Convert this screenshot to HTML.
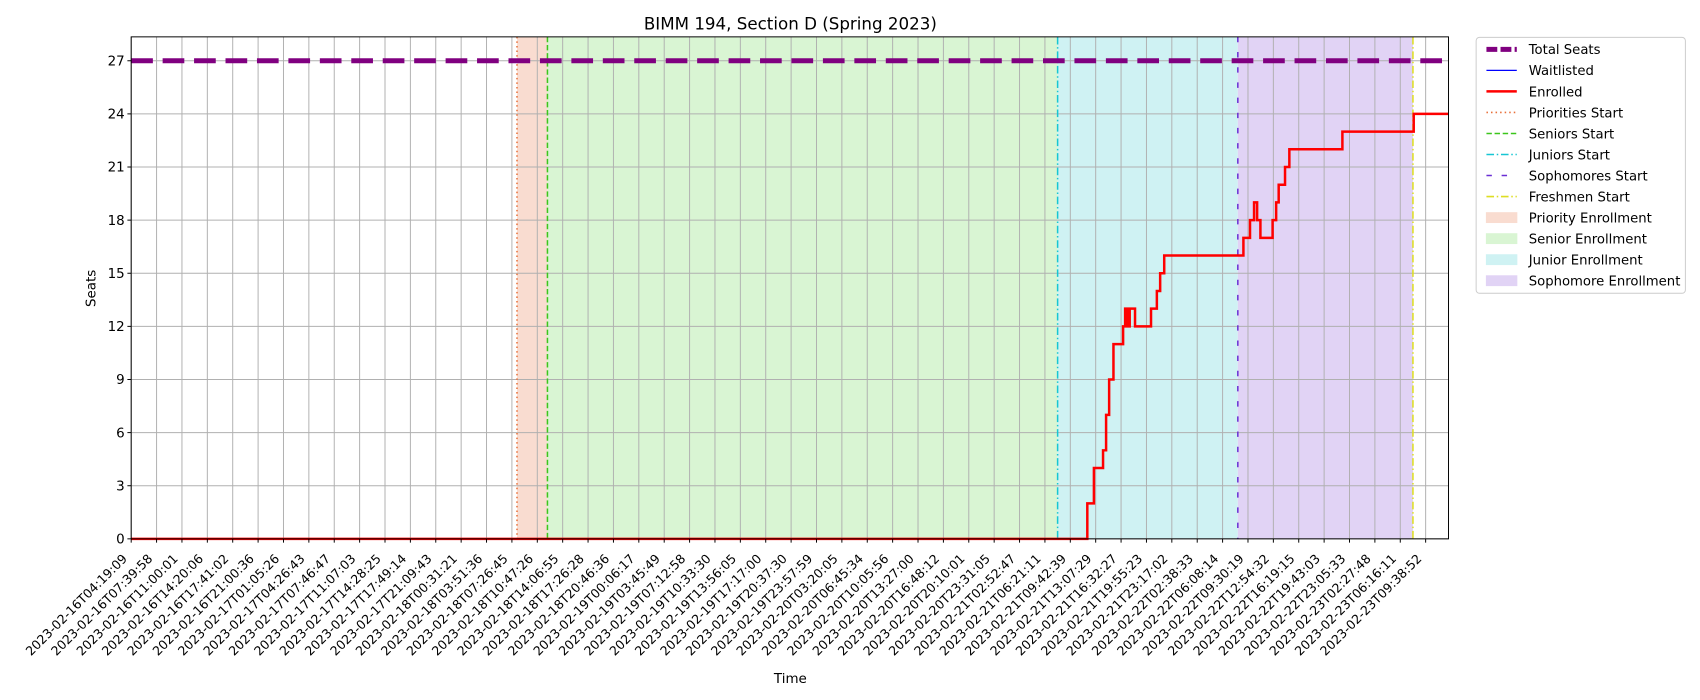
<!DOCTYPE html>
<html><head><meta charset="utf-8">
<style>
html,body{margin:0;padding:0;background:#fff;}
svg{display:block;font-family:"DejaVu Sans","Liberation Sans",sans-serif;}
</style></head>
<body>
<svg id="chart" width="1700" height="700" viewBox="0 0 1700 700">
<g transform="scale(1.0842)">
<g id="spans"></g><g id="grid"></g><g id="vlines"></g><g id="series"></g><g id="axes"></g><g id="legend"></g>
</g>
</svg>
<script>
const tickLabels = ["2023-02-16T04:19:09","2023-02-16T07:39:58","2023-02-16T11:00:01","2023-02-16T14:20:06","2023-02-16T17:41:02","2023-02-16T21:00:36","2023-02-17T01:05:26","2023-02-17T04:26:43","2023-02-17T07:46:47","2023-02-17T11:07:03","2023-02-17T14:28:25","2023-02-17T17:49:14","2023-02-17T21:09:43","2023-02-18T00:31:21","2023-02-18T03:51:36","2023-02-18T07:26:45","2023-02-18T10:47:26","2023-02-18T14:06:55","2023-02-18T17:26:28","2023-02-18T20:46:36","2023-02-19T00:06:17","2023-02-19T03:45:49","2023-02-19T07:12:58","2023-02-19T10:33:30","2023-02-19T13:56:05","2023-02-19T17:17:00","2023-02-19T20:37:30","2023-02-19T23:57:59","2023-02-20T03:20:05","2023-02-20T06:45:34","2023-02-20T10:05:56","2023-02-20T13:27:00","2023-02-20T16:48:12","2023-02-20T20:10:01","2023-02-20T23:31:05","2023-02-21T02:52:47","2023-02-21T06:21:11","2023-02-21T09:42:39","2023-02-21T13:07:29","2023-02-21T16:32:27","2023-02-21T19:55:23","2023-02-21T23:17:02","2023-02-22T02:38:33","2023-02-22T06:08:14","2023-02-22T09:30:19","2023-02-22T12:54:32","2023-02-22T16:19:15","2023-02-22T19:43:03","2023-02-22T23:05:33","2023-02-23T02:27:48","2023-02-23T06:16:11","2023-02-23T09:38:52"];
const yTicks = [0,3,6,9,12,15,18,21,24,27];
const totalSeats = 27;
const phaseStarts = [15.2, 16.4, 36.5, 43.6, 50.5]; // priority, senior, junior, sophomore, freshmen (tick-index units)
const enrolledT = [0, 37.67, 37.93, 38.29, 38.41, 38.53, 38.70, 39.08, 39.16, 39.25, 39.34, 39.55, 40.18, 40.41, 40.54, 40.70, 43.82, 44.08, 44.24, 44.36, 44.49, 44.97, 45.11, 45.21, 45.46, 45.63, 47.72, 50.53, 51.9];
const enrolledV = [0, 2, 4, 5, 7, 9, 11, 12, 13, 12, 13, 12, 13, 14, 15, 16, 17, 18, 19, 18, 17, 18, 19, 20, 21, 22, 23, 24, 24];

const L=121, R=1336, T=34, B=497, XMAX=51.9, YMAX=28.35;
const X = v => L + v/XMAX*(R-L);
const Y = v => B - v/YMAX*(B-T);
const NS="http://www.w3.org/2000/svg";
function mk(tag, attrs, parent){const e=document.createElementNS(NS,tag);for(const k in attrs)e.setAttribute(k,attrs[k]);parent.appendChild(e);return e;}
const $=id=>document.getElementById(id);

const spanColors=["#f9dcd0","#d9f5d3","#cff2f3","#e1d3f5"];
const spanNames=["priority-enrollment-span","senior-enrollment-span","junior-enrollment-span","sophomore-enrollment-span"];
for(let i=0;i<4;i++){
  const r=mk('rect',{x:X(phaseStarts[i]),y:T,width:X(phaseStarts[i+1])-X(phaseStarts[i]),height:B-T,fill:spanColors[i]},$('spans'));
  
  
}
tickLabels.forEach((t,i)=>{
  const l=mk('line',{x1:X(i),x2:X(i),y1:T,y2:B,stroke:"#b0b0b0","stroke-width":0.9},$('grid'));
  
  
});
yTicks.forEach(v=>{
  const l=mk('line',{x1:L,x2:R,y1:Y(v),y2:Y(v),stroke:"#b0b0b0","stroke-width":0.9},$('grid'));
  
  
});
const vlStyles=[["#e8703a","1.4,2.8"],["#3cc61c","5,2.5"],["#17c6d3","7,2.5,1.4,2.5"],["#6a2fd4","5,9"],["#dede22","7,2.5,1.4,2.5"]];
const vlNames=["priorities-start-line","seniors-start-line","juniors-start-line","sophomores-start-line","freshmen-start-line"];
phaseStarts.forEach((p,i)=>{
  const l=mk('line',{x1:X(p),x2:X(p),y1:T,y2:B,stroke:vlStyles[i][0],"stroke-width":1.4,"stroke-dasharray":vlStyles[i][1]},$('vlines'));
  
  
});
const ts=mk('line',{x1:L,x2:R,y1:Y(totalSeats),y2:Y(totalSeats),stroke:"#800080","stroke-width":4.6,"stroke-dasharray":"20,9"},$('series'));


let d="M"+X(enrolledT[0])+","+Y(enrolledV[0]);
for(let i=1;i<enrolledT.length;i++){d+=" L"+X(enrolledT[i])+","+Y(enrolledV[i-1])+" L"+X(enrolledT[i])+","+Y(enrolledV[i]);}
const en=mk('path',{d:d,fill:"none",stroke:"#ff0000","stroke-width":2.3},$('series'));


const fr=mk('rect',{x:L,y:T,width:R-L,height:B-T,fill:"none",stroke:"#000","stroke-width":0.9},$('axes'));


yTicks.forEach(v=>{
  mk('line',{x1:L-3.5,x2:L,y1:Y(v),y2:Y(v),stroke:"#000","stroke-width":0.9},$('axes'));
  const t=mk('text',{x:L-6,y:Y(v)+4.3,"text-anchor":"end","font-size":12.4},$('axes'));
  t.textContent=v;
  
  
});
tickLabels.forEach((s,i)=>{
  mk('line',{x1:X(i),x2:X(i),y1:B,y2:B+3.5,stroke:"#000","stroke-width":0.9},$('axes'));
  const tx=X(i)-3, ty=B+19;
  const t=mk('text',{x:tx,y:ty,"text-anchor":"end","font-size":11.6,transform:`rotate(-45 ${tx} ${ty})`},$('axes'));
  t.textContent=s;
  
  
});
const ti=mk('text',{x:729,y:27,"text-anchor":"middle","font-size":15.4},$('axes'));ti.textContent="BIMM 194, Section D (Spring 2023)";


const xt=mk('text',{x:729,y:630,"text-anchor":"middle","font-size":12.4},$('axes'));xt.textContent="Time";


const yt=mk('text',{x:88,y:266,"text-anchor":"middle","font-size":12.4,transform:"rotate(-90 88 266)"},$('axes'));yt.textContent="Seats";


const lg=$('legend');
const box=mk('rect',{x:1361.5,y:34.5,width:193,height:236,rx:3,fill:"#fff",stroke:"#ccc","stroke-width":0.9},lg);


const items=[
 ["Total Seats","line","#800080",4.6,"10,3"],["Waitlisted","line","#0000ff",1.1,""],["Enrolled","line","#ff0000",2.3,""],
 ["Priorities Start","line","#e8703a",1.4,"1.4,2.8"],["Seniors Start","line","#3cc61c",1.4,"5,2.5"],["Juniors Start","line","#17c6d3",1.4,"7,2.5,1.4,2.5"],
 ["Sophomores Start","line","#6a2fd4",1.4,"5,9"],["Freshmen Start","line","#dede22",1.4,"7,2.5,1.4,2.5"],
 ["Priority Enrollment","patch","#f9dcd0"],["Senior Enrollment","patch","#d9f5d3"],["Junior Enrollment","patch","#cff2f3"],["Sophomore Enrollment","patch","#e1d3f5"]];
items.forEach((it,i)=>{
  const y=45.5+i*19.4;
  const g=mk('g',{},lg);
  
  
  if(it[1]==="line") mk('line',{x1:1371,x2:1399,y1:y,y2:y,stroke:it[2],"stroke-width":it[3],"stroke-dasharray":it[4]},g);
  else mk('rect',{x:1371,y:y-4.5,width:28,height:9,fill:it[2],stroke:it[2]},g);
  const t=mk('text',{x:1410,y:y+4.5,"font-size":12.2},g);t.textContent=it[0];
});
</script>
</body></html>
